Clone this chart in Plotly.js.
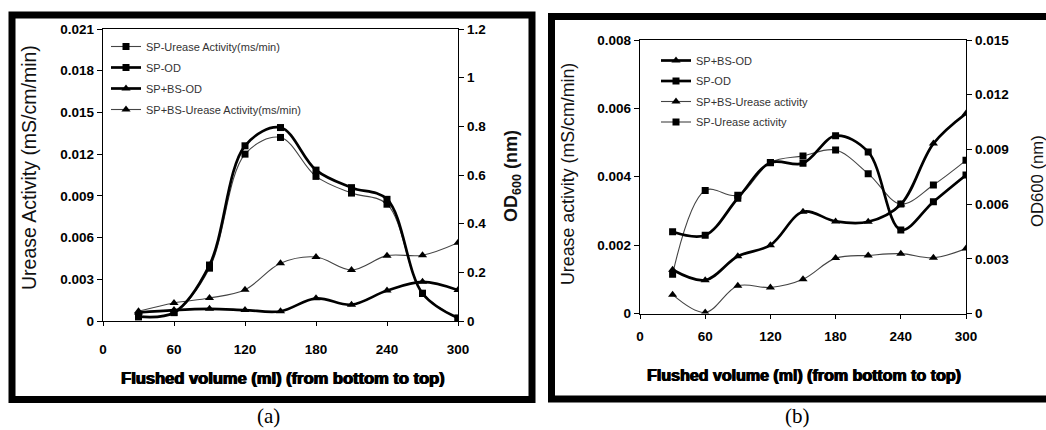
<!DOCTYPE html>
<html>
<head>
<meta charset="utf-8">
<script src="https://cdn.plot.ly/plotly-3.0.1.min.js"></script>
<style>
  html, body { margin: 0; padding: 0; background: #fff; }
  #chart { width: 1046px; height: 430px; }
</style>
</head>
<body>
<div id="chart"></div>
<script>
// ---------- data ----------
const volume = [30, 60, 90, 120, 150, 180, 210, 240, 270, 300];
const xTicks = [0, 60, 120, 180, 240, 300];

// panel (a)
const spUreaseA   = [0.0003, 0.0006, 0.0038, 0.0120, 0.0132, 0.0104, 0.0092, 0.0084, 0.0020, 0.0002];
const spOdA       = [0.018, 0.035, 0.230, 0.720, 0.795, 0.620, 0.548, 0.500, 0.113, 0.012];
const spbsOdA     = [0.035, 0.045, 0.050, 0.045, 0.040, 0.093, 0.067, 0.125, 0.161, 0.127];
const spbsUreaseA = [0.0007, 0.0013, 0.00165, 0.00225, 0.00415, 0.0046, 0.00367, 0.0047, 0.00473, 0.00563];
const leftTicksA  = [0, 0.003, 0.006, 0.009, 0.012, 0.015, 0.018, 0.021];
const leftLabelsA = ['0', '0.003', '0.006', '0.009', '0.012', '0.015', '0.018', '0.021'];
const rightTicksA = [0, 0.2, 0.4, 0.6, 0.8, 1.0, 1.2];
const rightLabelsA = ['0', '0.2', '0.4', '0.6', '0.8', '1', '1.2'];

// panel (b)
const spbsOdB     = [0.0024, 0.00183, 0.00314, 0.00375, 0.00558, 0.00505, 0.00503, 0.00598, 0.00932, 0.01097];
const spOdB       = [0.00448, 0.00429, 0.00632, 0.00827, 0.00824, 0.00975, 0.00886, 0.00458, 0.00613, 0.0076];
const spbsUreaseB = [0.00055, 0.00003, 0.00081, 0.00076, 0.0010, 0.00162, 0.0017, 0.00175, 0.00163, 0.0019];
const spUreaseB   = [0.00115, 0.0036, 0.00346, 0.00442, 0.00461, 0.00478, 0.00409, 0.0032, 0.00376, 0.00448];
const leftTicksB  = [0, 0.002, 0.004, 0.006, 0.008];
const leftLabelsB = ['0', '0.002', '0.004', '0.006', '0.008'];
const rightTicksB = [0, 0.003, 0.006, 0.009, 0.012, 0.015];
const rightLabelsB = ['0', '0.003', '0.006', '0.009', '0.012', '0.015'];

// ---------- helpers ----------
const W = 1046, H = 430;
const px = v => v / W;
const py = v => 1 - v / H;
const FONT = 'Liberation Sans, Arial, sans-serif';
const THICK = { color: '#000', width: 2.7, shape: 'spline', smoothing: 1 };
const THIN  = { color: '#444', width: 1.1, shape: 'spline', smoothing: 1 };
const SQ  = { symbol: 'square', size: 7, color: '#000' };
const TRI = { symbol: 'triangle-up', size: 8, color: '#000' };

function tr(name, y, xa, ya, line, marker, legend, group) {
  return { type: 'scatter', mode: 'lines+markers', name: name, x: volume, y: y,
           xaxis: xa, yaxis: ya, line: line, marker: marker,
           legend: legend, legendgroup: group, hoverinfo: 'skip' };
}

const data = [
  tr('SP-Urease Activity(ms/min)', spUreaseA, 'x', 'y', THIN, SQ, 'legend', 'a1'),
  tr('SP-OD', spOdA, 'x', 'y2', THICK, SQ, 'legend', 'a2'),
  tr('SP+BS-OD', spbsOdA, 'x', 'y2', THICK, TRI, 'legend', 'a3'),
  tr('SP+BS-Urease Activity(ms/min)', spbsUreaseA, 'x', 'y', THIN, TRI, 'legend', 'a4'),

  tr('SP+BS-OD', spbsOdB, 'x2', 'y4', THICK, TRI, 'legend2', 'b1'),
  tr('SP-OD', spOdB, 'x2', 'y4', THICK, SQ, 'legend2', 'b2'),
  tr('SP+BS-Urease activity', spbsUreaseB, 'x2', 'y3', THIN, TRI, 'legend2', 'b3'),
  tr('SP-Urease activity', spUreaseB, 'x2', 'y3', THIN, SQ, 'legend2', 'b4')
];

const tickFont = { family: FONT, size: 13.5, color: '#000', weight: 'bold' };
function xAxis(domain, anchor, standoff) {
  return { domain: domain, anchor: anchor, range: [0, 300], tickvals: xTicks,
           showline: true, linecolor: '#000', linewidth: 1.2, mirror: true,
           ticks: 'outside', ticklen: 4, tickcolor: '#000', tickfont: tickFont,
           ticklabelstandoff: standoff,
           showgrid: false, zeroline: false, fixedrange: true };
}
function yAxis(domain, anchor, range, vals, labels, side, overlay) {
  const a = { domain: domain, anchor: anchor, range: range, tickvals: vals, ticktext: labels,
              side: side, showline: true, linecolor: '#000', linewidth: 1.2,
              ticks: 'outside', ticklen: 5, tickcolor: '#000', tickfont: tickFont,
              showgrid: false, zeroline: false, fixedrange: true };
  if (overlay) a.overlaying = overlay;
  return a;
}

const domXA = [px(103), px(458)], domYA = [py(321), py(29)];
const domXB = [px(640), px(966)], domYB = [py(313.5), py(40)];

function border(x0, y0, x1, y1) {
  return { type: 'rect', xref: 'paper', yref: 'paper', x0: px(x0), x1: px(x1), y0: py(y1), y1: py(y0),
           line: { color: '#000', width: 7 }, fillcolor: 'rgba(0,0,0,0)' };
}
function note(text, x, y, size, opts) {
  return Object.assign({ text: text, xref: 'paper', yref: 'paper', x: px(x), y: py(y),
           xanchor: 'center', yanchor: 'middle', showarrow: false,
           font: { family: FONT, size: size, color: '#111' } }, opts || {});
}
const heavy = sz => ({ family: FONT, size: sz, color: '#000', shadow: '0.8px 0 0 #000, -0.4px 0 0 #000' });
const serif = { family: 'Liberation Serif, DejaVu Serif, serif', size: 21, color: '#000' };

const layout = {
  width: W, height: H, margin: { l: 0, r: 0, t: 0, b: 0 },
  paper_bgcolor: '#fff', plot_bgcolor: '#fff', showlegend: true,
  xaxis: xAxis(domXA, 'y', 12),
  yaxis: yAxis(domYA, 'x', [0, 0.021], leftTicksA, leftLabelsA, 'left'),
  yaxis2: yAxis(domYA, 'x', [0, 1.2], rightTicksA, rightLabelsA, 'right', 'y'),
  xaxis2: xAxis(domXB, 'y3', 6),
  yaxis3: yAxis(domYB, 'x2', [0, 0.008], leftTicksB, leftLabelsB, 'left'),
  yaxis4: yAxis(domYB, 'x2', [0, 0.015], rightTicksB, rightLabelsB, 'right', 'y3'),
  legend: { x: px(106), y: py(32), xanchor: 'left', yanchor: 'top', traceorder: 'grouped',
            tracegroupgap: 2, bgcolor: 'rgba(0,0,0,0)', borderwidth: 0,
            font: { family: FONT, size: 11, color: '#333' } },
  legend2: { x: px(656), y: py(46), xanchor: 'left', yanchor: 'top', traceorder: 'grouped',
             tracegroupgap: 1.5, bgcolor: 'rgba(0,0,0,0)', borderwidth: 0,
             font: { family: FONT, size: 11, color: '#333' } },
  shapes: [ border(12, 15, 532, 399.5), border(551.5, 16.5, 1052, 399) ],
  annotations: [
    note('Urease Activity (mS/cm/min)', 29, 168, 19.5, { textangle: -90 }),
    note('<b>OD<sub>600</sub> (nm)</b>', 512, 176, 18, { textangle: -90 }),
    note('<b>Flushed volume (ml) (from bottom to top)</b>', 283, 378, 16.5, { font: heavy(16.5) }),
    note('Urease activity (mS/cm/min)', 568, 174, 17.8, { textangle: -90 }),
    note('OD600 (nm)', 1037, 181, 16.7, { textangle: -90 }),
    note('<b>Flushed volume (ml) (from bottom to top)</b>', 804, 375, 16, { font: heavy(16) }),
    note('(a)', 268, 416, 21, { font: serif }),
    note('(b)', 797, 416, 21, { font: serif })
  ]
};

Plotly.newPlot('chart', data, layout, { staticPlot: true, displayModeBar: false });
</script>
</body>
</html>
